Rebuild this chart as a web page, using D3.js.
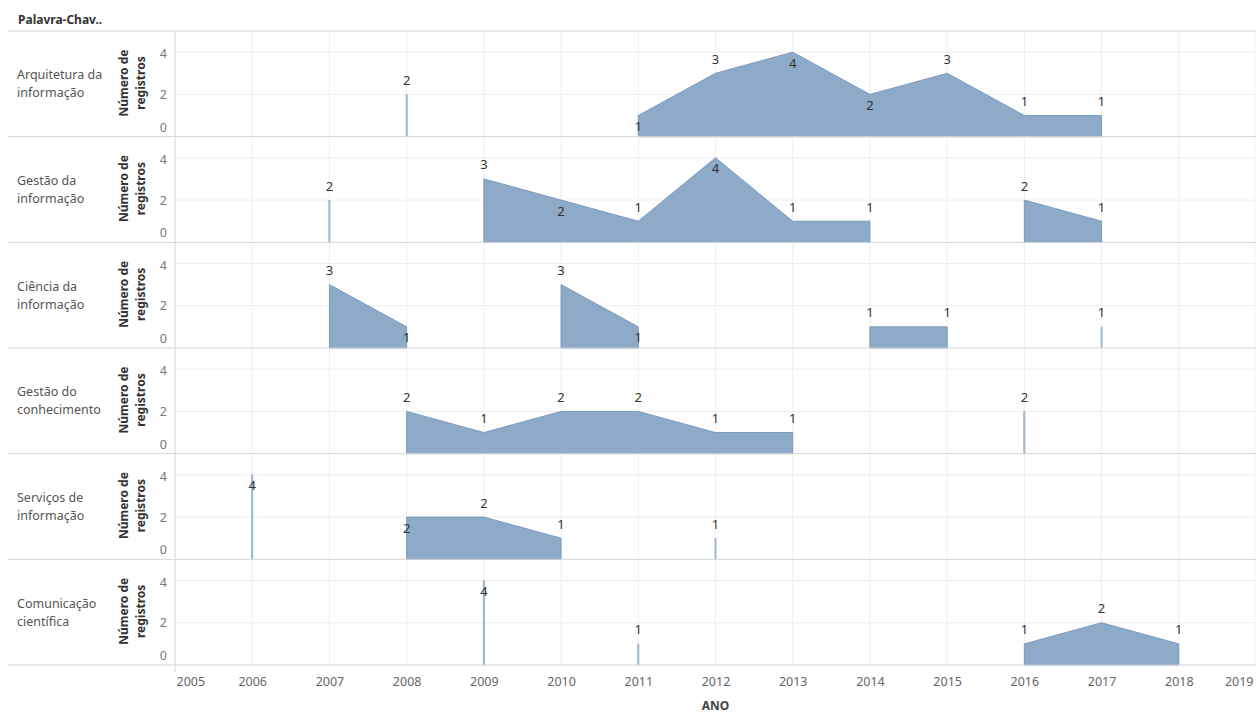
<html lang="pt">
<head>
<meta charset="utf-8">
<script src="https://d3js.org/d3.v7.min.js"></script>
<style>
  body { margin: 0; background: #fff; }
  text { font-family: "Noto Sans", "Open Sans", sans-serif; }
</style>
</head>
<body>
<div id="chart"></div>
<script>
// categories (rows) and years
const keywords = [
  "Arquitetura da informação",
  "Gestão da informação",
  "Ciência da informação",
  "Gestão do conhecimento",
  "Serviços de informação",
  "Comunicação científica"
];
const years = [2006, 2007, 2008, 2009, 2010, 2011, 2012, 2013, 2014, 2015, 2016, 2017, 2018];

// Número de registros per year (null = no record)
const arquitetura = [null, null, 2, null, null, 1, 3, 4, 2, 3, 1, 1, null];
const gestaoInfo  = [null, 2, null, 3, 2, 1, 4, 1, 1, null, 2, 1, null];
const ciencia     = [null, 3, 1, null, 3, 1, null, null, 1, 1, null, 1, null];
const gestaoConh  = [null, null, 2, 1, 2, 2, 1, 1, null, null, 2, null, null];
const servicos    = [4, null, 2, 2, 1, null, 1, null, null, null, null, null, null];
const comunicacao = [null, null, null, 4, null, 1, null, null, null, null, 1, 2, 1];
const series = [arquitetura, gestaoInfo, ciencia, gestaoConh, servicos, comunicacao];

const yTicks = [0, 2, 4];
const xTicks = [2005, 2006, 2007, 2008, 2009, 2010, 2011, 2012, 2013, 2014, 2015, 2016, 2017, 2018, 2019];

// labels that tableau put under the mark
const labelsBelow = [
  "0:2011", "0:2013", "0:2014",
  "1:2010", "1:2012",
  "2:2008", "2:2011",
  "4:2006", "4:2008",
  "5:2009"
];

const W = 1256, H = 713;
const plotL = 175, plotR = 1256, plotT = 31, plotB = 665;
const panelH = (plotB - plotT) / keywords.length;

const svg = d3.select("#chart").append("svg")
  .attr("width", W).attr("height", H);

const x = d3.scaleLinear().domain([2005, 2019]).range([plotL, plotR]);

// header
svg.append("text")
  .attr("x", 18).attr("y", 21)
  .attr("dominant-baseline", "middle")
  .attr("font-size", 12).attr("font-weight", "bold").attr("fill", "#333")
  .text("Palavra-Chav..");

const area = d3.area()
  .defined(d => d.v != null)
  .x(d => d.x).y1(d => d.y).y0(d => d.y0);

keywords.forEach((name, i) => {
  const pt = plotT + i * panelH, pb = pt + panelH;
  const y = d3.scaleLinear().domain([0, 5]).range([pb, pt]);
  const g = svg.append("g");

  // gridlines
  g.selectAll(".hg").data(yTicks.filter(t => t > 0)).join("line")
    .attr("x1", plotL).attr("x2", plotR)
    .attr("y1", d => y(d)).attr("y2", d => y(d))
    .attr("stroke", "#eeeeee");
  g.selectAll(".vg").data(xTicks.slice(1)).join("line")
    .attr("x1", d => x(d)).attr("x2", d => x(d))
    .attr("y1", pt).attr("y2", pb)
    .attr("stroke", "#eeeeee");

  // row header
  const cut = name.lastIndexOf(" ");
  [name.slice(0, cut), name.slice(cut + 1)].forEach((ln, k) => {
    g.append("text")
      .attr("x", 17).attr("y", pt + 45 + k * 18)
      .attr("dominant-baseline", "middle")
      .attr("font-size", 12.5).attr("fill", "#555")
      .text(ln);
  });

  // y title
  ["Número de", "registros"].forEach((ln, k) => {
    g.append("text")
      .attr("transform", `translate(${125 + k * 17},${pt + 52}) rotate(-90)`)
      .attr("text-anchor", "middle").attr("dominant-baseline", "middle")
      .attr("font-size", 12).attr("font-weight", "bold").attr("fill", "#333")
      .text(ln);
  });

  // y axis
  const ya = g.append("g")
    .attr("transform", `translate(${plotL},0)`)
    .call(d3.axisLeft(y).tickValues(yTicks).tickFormat(d3.format("d")).tickSize(0).tickPadding(8));
  ya.select(".domain").remove();
  ya.selectAll("text")
    .attr("font-size", 12.5).attr("fill", "#777")
    .attr("font-family", "Noto Sans, sans-serif")
    .attr("dy", d => d === 0 ? "-0.45em" : (d === 4 ? "0.45em" : "0.32em"));

  // marks
  const vals = series[i];
  const pts = years.map((yr, j) => ({ yr, v: vals[j], x: x(yr), y: vals[j] == null ? 0 : y(vals[j]), y0: y(0) }));

  const isolated = pts.filter((d, j) => d.v != null &&
    (j === 0 || pts[j - 1].v == null) && (j === pts.length - 1 || pts[j + 1].v == null));

  g.append("path")
    .attr("d", area(pts))
    .attr("fill", "#8eaac9")
    .attr("stroke", "#7c9abe").attr("stroke-width", 1).attr("stroke-linejoin", "round");

  g.selectAll(".iso").data(isolated).join("line")
    .attr("x1", d => d.x).attr("x2", d => d.x)
    .attr("y1", d => d.y).attr("y2", d => d.y0)
    .attr("stroke", "#9fb6d1").attr("stroke-width", 2);

  g.selectAll(".lbl").data(pts.filter(d => d.v != null)).join("text")
    .attr("x", d => d.x)
    .attr("y", d => labelsBelow.includes(i + ":" + d.yr) ? d.y + 12 : d.y - 13)
    .attr("text-anchor", "middle").attr("dominant-baseline", "middle")
    .attr("font-size", 13).attr("fill", "#333")
    .text(d => d.v);

  // panel separator
  g.append("line")
    .attr("x1", 8).attr("x2", W)
    .attr("y1", pt).attr("y2", pt)
    .attr("stroke", "#d4d4d4");
});

svg.append("line")
  .attr("x1", 8).attr("x2", W).attr("y1", plotB).attr("y2", plotB)
  .attr("stroke", "#d4d4d4");
svg.append("line")
  .attr("x1", plotL).attr("x2", plotL).attr("y1", plotT).attr("y2", plotB + 7)
  .attr("stroke", "#d4d4d4");

// x axis
const xa = svg.append("g")
  .attr("transform", `translate(0,${plotB})`)
  .call(d3.axisBottom(x).tickValues(xTicks).tickFormat(d3.format("d")).tickSize(0).tickPadding(12));
xa.select(".domain").remove();
xa.selectAll("text")
  .attr("font-size", 12.5).attr("fill", "#666")
  .attr("font-family", "Noto Sans, sans-serif")
  .attr("text-anchor", d => d === 2005 ? "start" : (d === 2019 ? "end" : "middle"))
  .attr("dx", d => d === 2005 ? 1 : (d === 2019 ? -3 : 0));

svg.append("text")
  .attr("x", (plotL + plotR) / 2).attr("y", 707)
  .attr("text-anchor", "middle").attr("dominant-baseline", "middle")
  .attr("font-size", 12).attr("font-weight", "bold").attr("fill", "#444")
  .text("ANO");
</script>
</body>
</html>
